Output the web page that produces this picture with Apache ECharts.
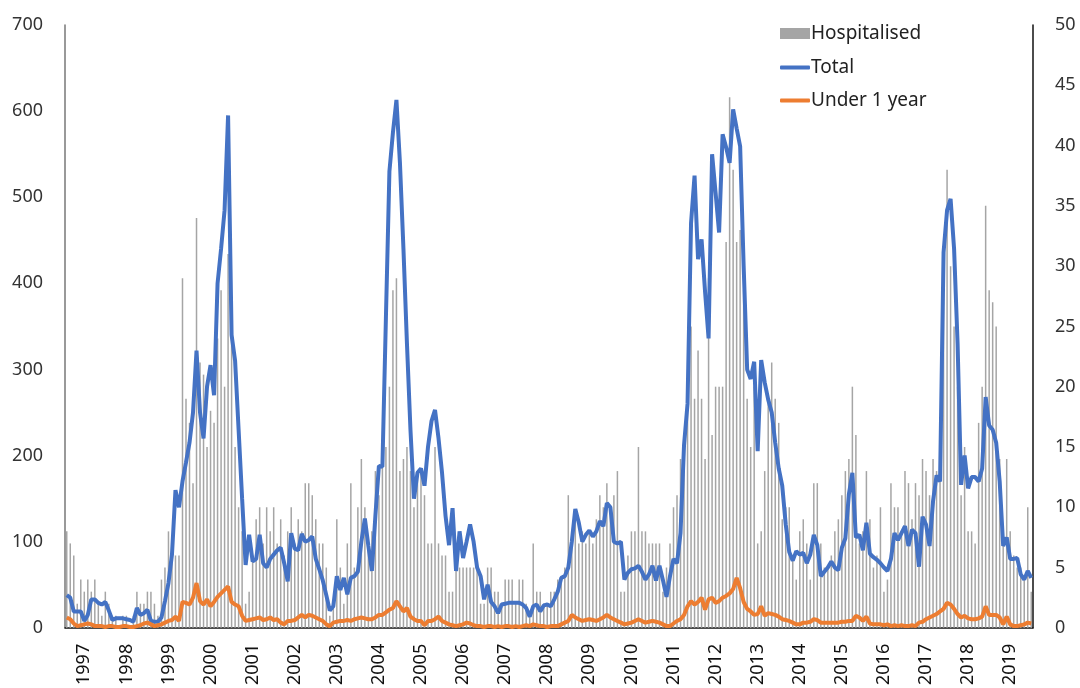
<!DOCTYPE html>
<html>
<head>
<meta charset="utf-8">
<title>Hospitalised / Total / Under 1 year</title>
<script src="https://cdn.jsdelivr.net/npm/echarts@6/dist/echarts.min.js"></script>
<style>
  html, body { margin: 0; padding: 0; background: #fff; }
  #chart { width: 1080px; height: 688px; }
</style>
</head>
<body>
<div id="chart"></div>
<script>
// monthly series, Aug 1996 .. Jul 2019
var startYear = 1996, startMonth = 8, monthCount = 276;
var months = [];
for (var k = 0; k < monthCount; k++) {
    var m = startMonth - 1 + k;
    var y = startYear + Math.floor(m / 12);
    var mm = (m % 12) + 1;
    months.push(y + '-' + (mm < 10 ? '0' + mm : mm));
}

// hospitalised (right axis)
var hospitalised = [
    8, 7, 6, 2, 4, 3, 4, 3, 4, 2,
    1, 3, 2, 1, 1, 0, 1, 1, 0, 1,
    3, 2, 2, 3, 3, 2, 1, 4, 5, 8,
    7, 6, 6, 29, 19, 17, 12, 34, 22, 21,
    15, 18, 17, 24, 28, 20, 31, 25, 15, 10,
    8, 2, 3, 6, 9, 10, 7, 10, 8, 10,
    7, 9, 6, 8, 10, 7, 9, 8, 12, 12,
    11, 9, 7, 7, 5, 1, 2, 9, 5, 2,
    7, 12, 5, 10, 14, 10, 7, 8, 13, 11,
    15, 15, 20, 28, 29, 13, 14, 15, 13, 10,
    13, 13, 11, 7, 7, 15, 7, 6, 6, 3,
    3, 5, 5, 5, 5, 5, 5, 5, 2, 2,
    5, 5, 3, 3, 2, 4, 4, 4, 2, 4,
    4, 2, 1, 7, 3, 3, 2, 2, 3, 3,
    4, 4, 5, 11, 8, 9, 7, 8, 7, 8,
    7, 9, 11, 10, 12, 10, 11, 13, 3, 3,
    6, 8, 8, 15, 8, 8, 7, 7, 7, 7,
    3, 5, 7, 10, 11, 14, 15, 18, 25, 19,
    23, 19, 14, 29, 16, 20, 20, 20, 32, 44,
    38, 32, 33, 28, 19, 15, 20, 7, 8, 13,
    19, 22, 19, 17, 9, 10, 10, 6, 4, 8,
    9, 7, 4, 12, 12, 7, 5, 5, 6, 8,
    9, 11, 13, 14, 20, 16, 7, 8, 13, 9,
    5, 6, 10, 3, 4, 12, 10, 10, 8, 13,
    12, 9, 12, 11, 14, 13, 11, 14, 13, 15,
    31, 38, 30, 25, 20, 11, 15, 8, 8, 7,
    17, 20, 35, 28, 27, 25, 14, 7, 14, 8,
    6, 5, 5, 4, 10, 3
];

// total (left axis)
var total = [
    38, 35, 19, 19, 19, 8, 15, 33, 33, 29,
    27, 30, 20, 9, 11, 11, 11, 10, 9, 7,
    23, 15, 17, 21, 8, 7, 7, 12, 31, 52,
    85, 160, 140, 170, 192, 215, 250, 322, 250, 220,
    280, 305, 270, 400, 440, 485, 595, 340, 310, 230,
    150, 73, 108, 77, 80, 108, 75, 70, 80, 85,
    90, 93, 75, 54, 110, 92, 90, 109, 100, 102,
    106, 80, 68, 55, 38, 20, 25, 60, 44, 58,
    39, 58, 60, 65, 100, 127, 95, 66, 130, 188,
    187, 360, 530, 575, 613, 540, 440, 330, 230, 150,
    180, 185, 165, 210, 240, 253, 220, 180, 130, 96,
    139, 66, 112, 81, 100, 120, 100, 70, 60, 33,
    50, 30, 25, 17, 27, 28, 29, 29, 29, 29,
    27, 23, 13, 25, 27, 19, 26, 27, 25, 33,
    42, 58, 60, 70, 100, 138, 122, 100, 108, 113,
    106, 112, 124, 118, 145, 140, 100, 98, 100, 56,
    64, 68, 69, 72, 65, 56, 62, 72, 55, 72,
    55, 36, 60, 80, 75, 110, 212, 260, 470, 525,
    428, 451, 390, 336, 550, 505, 459, 573, 558, 540,
    602, 580, 559, 420, 300, 289, 309, 205, 311, 285,
    265, 250, 215, 185, 165, 120, 88, 78, 89, 85,
    87, 75, 85, 108, 96, 60, 65, 70, 77, 70,
    67, 93, 104, 155, 180, 105, 108, 90, 122, 86,
    82, 79, 75, 70, 66, 80, 110, 102, 110, 118,
    95, 114, 110, 71, 129, 120, 95, 147, 177, 170,
    436, 485, 498, 440, 330, 166, 200, 162, 175, 175,
    170, 185, 268, 235, 230, 215, 170, 95, 105, 80,
    80, 81, 62, 56, 66, 58
];

// under 1 year (left axis)
var under1 = [
    12, 10, 5, 2, 3, 4, 5, 4, 2, 2,
    2, 1, 2, 2, 1, 1, 2, 2, 1, 1,
    2, 3, 5, 6, 4, 2, 3, 4, 6, 8,
    9, 13, 8, 30, 29, 27, 35, 52, 31, 27,
    33, 25, 30, 36, 40, 44, 48, 30, 27, 25,
    14, 8, 9, 10, 11, 12, 9, 10, 12, 9,
    10, 6, 4, 8, 8, 9, 12, 15, 12, 15,
    14, 12, 10, 8, 4, 2, 6, 7, 8, 8,
    9, 8, 10, 11, 12, 11, 10, 10, 12, 15,
    15, 18, 21, 23, 31, 25, 19, 23, 13, 10,
    8, 8, 3, 8, 8, 10, 13, 8, 6, 4,
    3, 2, 3, 4, 6, 5, 3, 2, 2, 1,
    2, 2, 1, 2, 1, 2, 2, 1, 2, 1,
    2, 3, 2, 4, 3, 2, 2, 1, 2, 2,
    2, 4, 6, 8, 15, 12, 10, 8, 9, 10,
    9, 8, 10, 12, 15, 12, 10, 8, 6, 4,
    5, 6, 8, 10, 8, 6, 7, 8, 7, 6,
    4, 2, 2, 5, 8, 10, 15, 25, 31, 27,
    30, 35, 21, 33, 35, 29, 31, 35, 37, 40,
    45, 58, 46, 30, 22, 19, 15, 16, 25, 14,
    17, 16, 15, 13, 10, 9, 8, 6, 4, 4,
    6, 6, 7, 10, 9, 6, 6, 6, 6, 6,
    6, 7, 7, 8, 8, 14, 12, 8, 13, 5,
    4, 4, 4, 3, 4, 2, 3, 2, 3, 2,
    2, 3, 2, 6, 7, 10, 12, 14, 16, 19,
    22, 29, 27, 22, 16, 12, 14, 11, 10, 10,
    11, 13, 25, 15, 15, 15, 12, 4, 13, 4,
    2, 2, 3, 4, 6, 5
];

var labelFont = '"Noto Sans", "Open Sans", sans-serif';
var legendText = { fontSize: 19, color: '#222', fontFamily: labelFont, padding: [0, 0, 0, -4] };

var chart = echarts.init(document.getElementById('chart'));
chart.setOption({
    animation: false,
    textStyle: { fontFamily: labelFont },
    legend: [
        {
            left: 780,
            top: 24,
            itemWidth: 30,
            itemHeight: 11,
            padding: 0,
            textStyle: legendText,
            data: [{ name: 'Hospitalised', icon: 'rect' }]
        },
        {
            orient: 'vertical',
            left: 780,
            top: 58,
            itemWidth: 30,
            itemHeight: 4,
            itemGap: 14,
            padding: 0,
            textStyle: legendText,
            data: [
                { name: 'Total', icon: 'roundRect' },
                { name: 'Under 1 year', icon: 'roundRect' }
            ]
        }
    ],
    grid: { left: 65, right: 47, top: 25, bottom: 58 },
    xAxis: {
        type: 'category',
        data: months,
        boundaryGap: true,
        axisLine: { lineStyle: { color: '#111', width: 1.5 } },
        axisTick: { show: false },
        axisLabel: {
            rotate: 90,
            margin: 16,
            fontSize: 18,
            color: '#111',
            interval: function (index) { return index % 12 === 5; },
            formatter: function (v) { return v.slice(0, 4); }
        }
    },
    yAxis: [
        {
            type: 'value',
            min: 0, max: 700, interval: 100,
            splitLine: { show: false },
            axisLine: { show: true, lineStyle: { color: '#777', width: 1.5 } },
            axisTick: { show: false },
            axisLabel: { fontSize: 18, color: '#333', margin: 22 }
        },
        {
            type: 'value',
            min: 0, max: 50, interval: 5,
            splitLine: { show: false },
            axisLine: { show: true, lineStyle: { color: '#111', width: 1.5 } },
            axisTick: { show: false },
            axisLabel: { fontSize: 18, color: '#333', margin: 22 }
        }
    ],
    series: [
        {
            name: 'Hospitalised',
            type: 'bar',
            yAxisIndex: 1,
            data: hospitalised,
            barWidth: 1.5,
            itemStyle: { color: '#A5A5A5' }
        },
        {
            name: 'Total',
            type: 'line',
            yAxisIndex: 0,
            data: total,
            symbol: 'none',
            lineStyle: { color: '#4472C4', width: 4 },
            itemStyle: { color: '#4472C4' }
        },
        {
            name: 'Under 1 year',
            type: 'line',
            yAxisIndex: 0,
            data: under1,
            symbol: 'none',
            lineStyle: { color: '#ED7D31', width: 4 },
            itemStyle: { color: '#ED7D31' }
        }
    ]
});
</script>
</body>
</html>
